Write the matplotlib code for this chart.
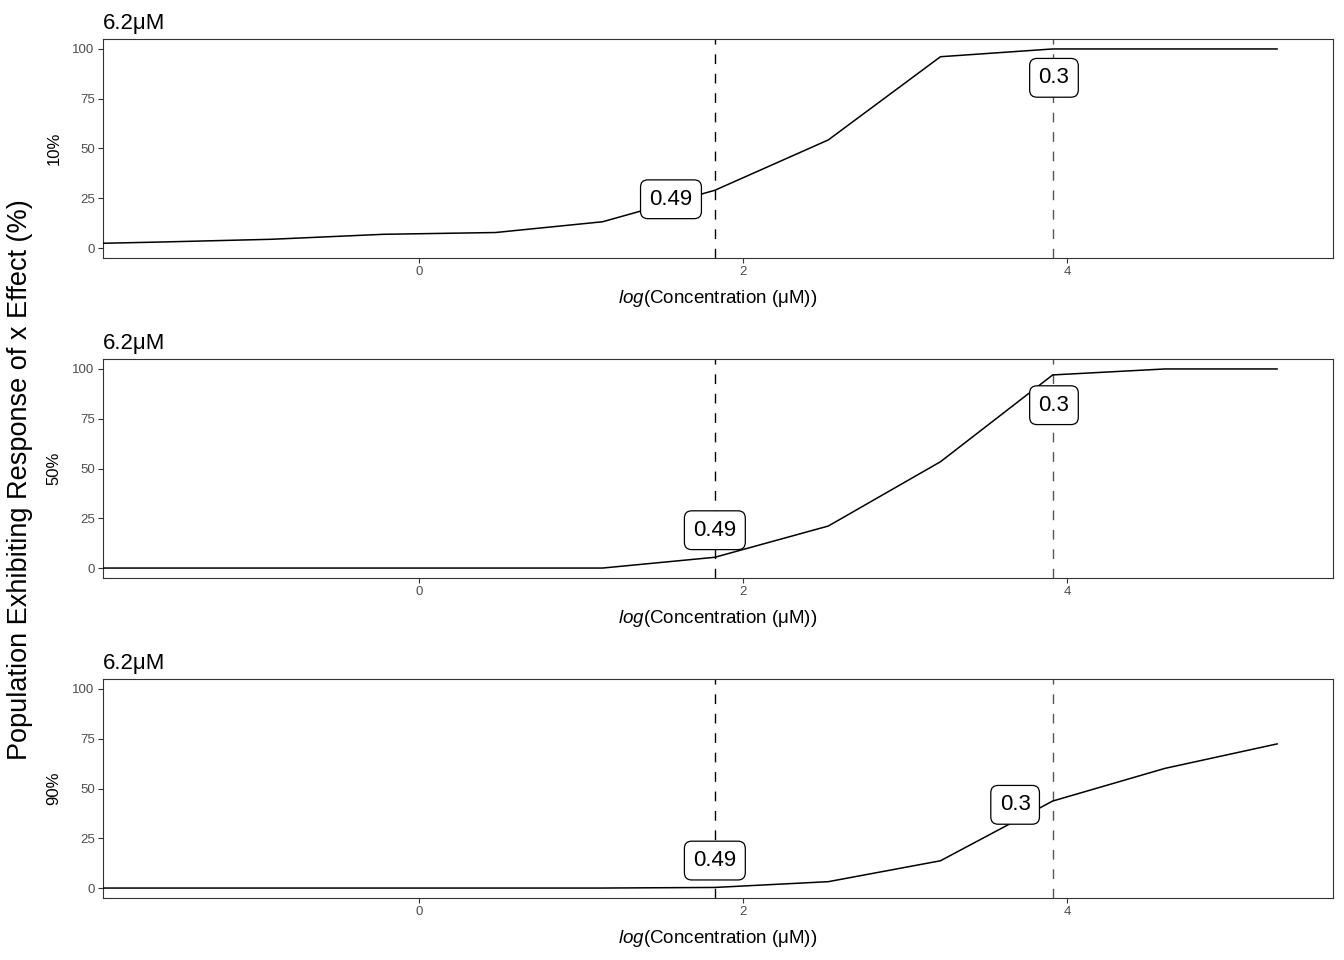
import numpy as np
import matplotlib
matplotlib.use("Agg")
import matplotlib.pyplot as plt

plt.rcParams['font.family'] = ['Liberation Sans', 'DejaVu Sans']
plt.rcParams['mathtext.fontset'] = 'custom'
plt.rcParams['mathtext.rm'] = 'Liberation Sans'
plt.rcParams['mathtext.it'] = 'Liberation Sans:italic'

# ---- data ----
concentration = [0, 0.2, 0.4, 0.8, 1.6, 3.1, 6.2, 12.5, 25, 50, 100, 200]   # µM
response_10 = [2.4, 3.0, 4.4, 6.9, 7.8, 13.2, 29.0, 54.3, 96.1, 100, 100, 100]
response_50 = [0, 0, 0, 0, 0, 0, 5.4, 21.1, 53.4, 97.0, 100, 100]
response_90 = [0, 0, 0, 0, 0, 0, 0.3, 3.2, 13.7, 43.7, 60.1, 72.4]
panel_labels = ["10%", "50%", "90%"]
panel_title = "6.2μM"
vline_conc = [6.2, 50]
vline_text = ["0.49", "0.3"]
# label anchor points (data coords: log conc, response) as placed in the figure
label_pos = [
    [(1.554, 24.5), (3.92, 85.5)],
    [(1.825, 19.0), (3.92, 81.8)],
    [(1.825, 13.8), (3.68, 41.8)],
]

series = [response_10, response_50, response_90]

logc = np.log(np.array(concentration, dtype=float).clip(min=1e-300))
logc[np.array(concentration) == 0] = -np.inf
finite = logc[np.isfinite(logc)]
rng = finite.max() - finite.min()
xlim = (finite.min() - 0.05 * rng, finite.max() + 0.05 * rng)
xplot = np.where(np.isfinite(logc), logc, xlim[0])

W, H = 1344, 960
fig = plt.figure(figsize=(W / 100, H / 100), dpi=100)

axes_px = [(39, 258), (359, 578), (679, 898)]
left_px, right_px = 103, 1333
vline_colors = ['#000000', '#555555']

xlabel = r'$\mathit{log}\left(\mathrm{Concentration\ (μM)}\right)$'

for i, (top, bot) in enumerate(axes_px):
    ax = fig.add_axes([left_px / W, 1 - bot / H, (right_px - left_px) / W, (bot - top) / H])
    ax.plot(xplot, series[i], color='black', lw=1.1, solid_joinstyle='miter', zorder=3)
    for j, c in enumerate(vline_conc):
        ln = ax.axvline(np.log(c), color=vline_colors[j], lw=1.0, zorder=2)
        ln.set_dashes((7, 7))
    for j, (lx, ly) in enumerate(label_pos[i]):
        ax.text(lx, ly, vline_text[j], ha='center', va='center', fontsize=16, color='black',
                zorder=5,
                bbox=dict(boxstyle='round,pad=0.4,rounding_size=0.33', fc='white', ec='black', lw=0.9))
    ax.set_xlim(*xlim)
    ax.set_ylim(-5, 105)
    ax.set_yticks([0, 25, 50, 75, 100])
    ax.set_xticks([0, 2, 4])
    ax.tick_params(axis='both', labelsize=9.5, labelcolor='#4D4D4D', color='#333333',
                   length=3.5, width=0.8, pad=2.5)
    for s in ax.spines.values():
        s.set_color('#333333')
        s.set_linewidth(0.8)
    ax.set_ylabel(panel_labels[i], fontsize=12, labelpad=8)
    ax.set_xlabel(xlabel, fontsize=13.5, labelpad=7)
    ax.set_title(panel_title, loc='left', fontsize=16, pad=7)

fig.text(20 / W, 0.5, 'Population Exhibiting Response of x Effect (%)',
         rotation=90, ha='center', va='center', fontsize=19.5)

fig.savefig('out.png', dpi=100)
